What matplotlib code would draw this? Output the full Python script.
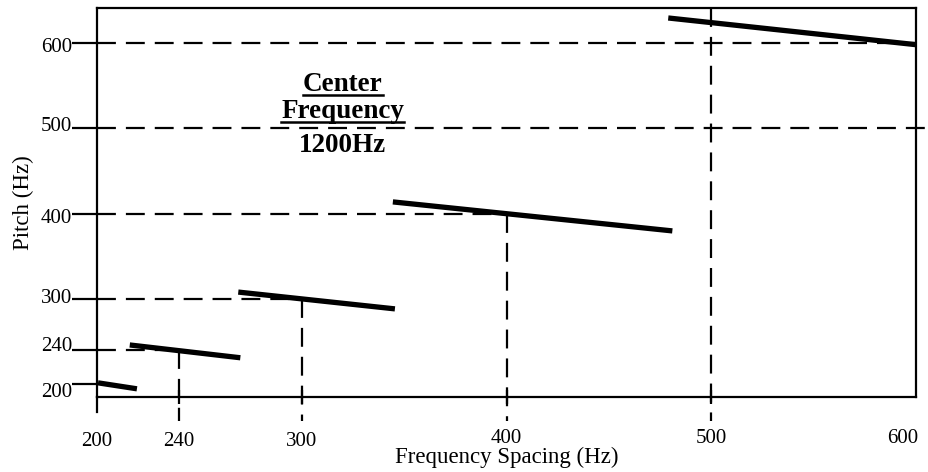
import matplotlib
matplotlib.use("Agg")
import matplotlib.pyplot as plt
import matplotlib.transforms as mtransforms

plt.rcParams['font.family'] = ['Liberation Serif', 'DejaVu Serif']

# ---- data ----
seg_x = [(200.5, 219.5), (216, 270), (269, 345.5), (344.5, 481), (479, 600)]
seg_y = [(201.6, 194.6), (246, 231), (308, 288.3), (413.7, 379.7), (629.3, 598)]

ref_levels = [240, 300, 400, 500, 600]          # horizontal/vertical reference values
h_right = [240, 300, 400, 641, 600]             # where each horizontal dashed ends (x)
v_refs = [240, 300, 400, 500]
v_top = [240, 300, 400, 641]

xticks = [200, 240, 300, 400, 500, 600]
xtick_labels = ['200', '240', '300', '400', '500', '600']
yticks = [200, 240, 300, 400, 500, 600]
ytick_labels = ['200', '240', '300', '400', '500', '600']

note_lines = ['Center', 'Frequency', '1200Hz']
note_y = [543.5, 512, 472]
note_x = 320
note_underline = [True, True, False]

xlabel = 'Frequency Spacing (Hz)'
ylabel = 'Pitch (Hz)'

# ---- figure ----
fig = plt.figure(figsize=(9.29, 4.72), dpi=100)
ax = fig.add_axes([97/929, 1-397/472, (916-97)/929, (397-8)/472])
ax.set_xlim(200, 600)
ax.set_ylim(185, 641)

for s in ax.spines.values():
    s.set_linewidth(1.6)
    s.set_color('black')

dash = dict(color='black', lw=1.6, dashes=(8.5, 4.5), clip_on=False)

# horizontal dashed lines
for lev, xr in zip(ref_levels, h_right):
    ax.plot([200, xr], [lev, lev], **dash)

# vertical dashed lines (extend below axis)
for xv, yt in zip(v_refs, v_top):
    ax.plot([xv, xv], [yt, 157], **dash)

# left spine extension below
ax.plot([200, 200], [185, 167], color='black', lw=1.6, clip_on=False)

# thick segments
for xs, ys in zip(seg_x, seg_y):
    ax.plot(xs, ys, color='black', lw=3.8, solid_capstyle='butt', clip_on=False)

# ticks
ax.set_xticks(xticks)
ax.set_xticklabels(xtick_labels, fontsize=15)
ax.set_yticks(yticks)
ax.set_yticklabels(ytick_labels, fontsize=15)
ax.tick_params(axis='y', direction='out', length=18, width=1.6, pad=0)
ax.tick_params(axis='x', direction='inout', length=10, width=1.6, pad=20)
xt = ax.xaxis.get_major_ticks()
xt[0].tick1line.set_visible(False)
xt[-1].tick1line.set_visible(False)
xt[-1].label1.set_horizontalalignment('right')
xt[-1].label1.set_transform(xt[-1].label1.get_transform() +
                            mtransforms.ScaledTranslation(0.02, 0.03, fig.dpi_scale_trans))
for t in xt[3:5]:
    t.label1.set_transform(t.label1.get_transform() +
                           mtransforms.ScaledTranslation(0, 0.03, fig.dpi_scale_trans))

y_off = {200: -0.06, 240: 0.06, 300: 0.03, 400: -0.02, 500: 0.04, 600: -0.02}
for t, v in zip(ax.yaxis.get_major_ticks(), yticks):
    t.label1.set_transform(t.label1.get_transform() +
                           mtransforms.ScaledTranslation(0, y_off[v], fig.dpi_scale_trans))

ax.set_xlabel(xlabel, fontsize=16.5, labelpad=-3)
ax.set_ylabel(ylabel, fontsize=16.5, labelpad=5)

# annotation
texts = []
for line, yv in zip(note_lines, note_y):
    t = ax.text(note_x, yv, line, ha='center', va='baseline', fontsize=19.5,
                fontweight='bold')
    texts.append(t)

fig.canvas.draw()
r = fig.canvas.get_renderer()
inv = ax.transData.inverted()
for t, yv, ul in zip(texts, note_y, note_underline):
    if not ul:
        continue
    bb = t.get_window_extent(r)
    x0 = inv.transform((bb.x0, 0))[0]
    x1 = inv.transform((bb.x1, 0))[0]
    tr = ax.transData + mtransforms.ScaledTranslation(0, -0.035, fig.dpi_scale_trans)
    ax.plot([x0, x1], [yv, yv], color='black', lw=1.8, transform=tr, clip_on=False)

fig.savefig('out.png', dpi=100)
